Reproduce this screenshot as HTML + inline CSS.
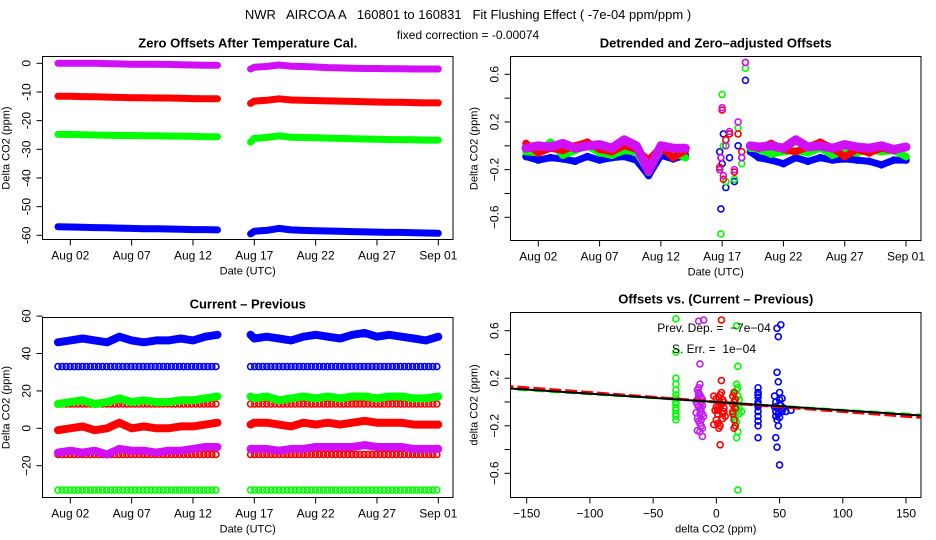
<!DOCTYPE html>
<html><head><meta charset="utf-8"><style>
html,body{margin:0;padding:0;background:#fff}
svg{display:block;font-family:"Liberation Sans",Arial,sans-serif}
text{white-space:pre}
</style></head><body>
<svg id="c" width="936" height="540" viewBox="0 0 936 540" xmlns="http://www.w3.org/2000/svg">
<defs>
<pattern id="pp" width="2" height="2" patternUnits="userSpaceOnUse"><rect width="2" height="2" fill="#a020f0"/><rect width="1" height="1" fill="#ff00ff"/><rect x="1" y="1" width="1" height="1" fill="#ff00ff"/></pattern>
</defs>
<text x="468" y="19" font-size="13" text-anchor="middle">NWR   AIRCOA A   160801 to 160831   Fit Flushing Effect ( -7e-04 ppm/ppm )</text>
<text x="468" y="39" font-size="12" text-anchor="middle">fixed correction = -0.00074</text>
</svg>
<script>
// ---- data ----
const dayTicks=[2,7,12,17,22,27,32];
const dayLabels=["Aug 02","Aug 07","Aug 12","Aug 17","Aug 22","Aug 27","Sep 01"];
const T=[1,2,3,4,5,6,7,8,9,10,11,12,13,14,16.7,17,18,19,20,21,22,23,24,25,26,27,28,29,30,31,32];
const p1Purple=[0,0,0,0,-0.1,-0.2,-0.3,-0.3,-0.3,-0.4,-0.5,-0.6,-0.7,-0.7,-2,-1.4,-1.1,-0.6,-1,-1.1,-1.3,-1.5,-1.6,-1.7,-1.8,-1.8,-1.9,-1.9,-2,-2,-2];
const p1Red=[-11.5,-11.5,-11.6,-11.7,-11.8,-11.9,-12,-12,-12.1,-12.1,-12.2,-12.3,-12.4,-12.4,-14,-13.2,-12.9,-12.4,-12.8,-12.9,-13,-13.1,-13.2,-13.3,-13.4,-13.5,-13.6,-13.6,-13.7,-13.8,-13.8];
const p1Green=[-24.8,-24.8,-24.9,-25,-25.1,-25.2,-25.2,-25.3,-25.3,-25.4,-25.4,-25.5,-25.6,-25.6,-27.5,-26.2,-25.9,-25.3,-25.8,-25.9,-26,-26.1,-26.2,-26.3,-26.4,-26.5,-26.6,-26.6,-26.7,-26.8,-26.8];
const p1Blue=[-57,-57.1,-57.2,-57.3,-57.4,-57.5,-57.6,-57.7,-57.7,-57.8,-57.9,-58,-58,-58.1,-59.5,-58.6,-58.3,-57.6,-58.1,-58.3,-58.4,-58.5,-58.6,-58.7,-58.8,-58.9,-59,-59,-59.1,-59.2,-59.3];
const p1Ticks=[0,-10,-20,-30,-40,-50,-60];

const P2T=[1,2,3,4,5,6,7,8,9,10,11,12,13,14,16.8,16.9,17,17.1,17.3,17.6,18,18.3,18.6,18.9,19.3,20,21,22,23,24,25,26,27,28,29,30,31,32];
const p2Blue=[-0.09,-0.12,-0.1,-0.11,-0.13,-0.09,-0.12,-0.1,-0.09,-0.12,-0.25,-0.08,-0.11,-0.08,-0.05,-0.53,-0.15,0.1,-0.35,-0.1,-0.3,0.0,-0.1,0.55,-0.05,-0.1,-0.12,-0.15,-0.1,-0.13,-0.1,-0.12,-0.11,-0.12,-0.13,-0.16,-0.12,-0.12];
const p2Green=[-0.05,-0.06,0.03,-0.08,-0.04,0.0,-0.06,-0.08,-0.04,-0.05,-0.22,-0.03,-0.06,-0.1,-0.2,-0.74,0.43,0.0,-0.3,0.1,-0.28,0.15,-0.15,0.65,-0.02,-0.03,-0.07,-0.05,-0.04,-0.06,-0.02,-0.08,-0.05,-0.06,-0.03,-0.05,-0.04,-0.09];
const p2Red=[0.02,-0.06,-0.02,-0.04,0.0,0.03,-0.03,-0.05,0.0,-0.03,-0.12,-0.01,-0.1,-0.04,-0.18,-0.1,0.3,-0.28,0.05,0.1,-0.22,0.1,-0.05,0.7,0.0,-0.02,0.02,-0.03,-0.05,-0.01,0.03,-0.02,-0.09,-0.03,-0.06,-0.02,-0.04,-0.01];
const p2Purple=[-0.02,0.0,-0.01,0.02,-0.02,0.0,0.01,-0.02,0.05,0.0,-0.21,0.0,-0.02,-0.02,-0.2,-0.1,0.32,-0.25,0.0,0.12,-0.2,0.2,-0.1,0.7,0.0,-0.01,0.0,-0.02,0.05,-0.01,0.0,-0.02,0.01,-0.01,-0.02,0.0,-0.03,-0.01];
const resTicks=[0.6,0.4,0.2,0,-0.2,-0.4,-0.6];
const resLabels=["0.6","","0.2","","-0.2","","-0.6"];

const p3Blue=[46,47,48,47,46,49,47,46,47,47,48,47,49,50,50,48,49,48,47,49,50,49,48,50,51,49,50,49,48,47,49];
const p3Green=[13,14,15,13,14,16,14,15,14,14,15,15,16,17,17,16,17,15,16,17,16,17,16,17,17,16,17,17,16,16,17];
const p3Red=[-1,0,1,-1,0,3,0,1,0,0,1,1,2,3,2,3,3,2,1,3,2,3,2,3,4,3,3,3,2,2,2];
const p3Purple=[-13,-12,-13,-12,-14,-11,-12,-12,-13,-12,-12,-11,-10,-10,-11,-11,-11,-12,-11,-11,-10,-10,-10,-10,-9,-10,-10,-10,-11,-11,-11];
const flatLevels=[33,-33,13,-14];
const flatColors=["#0000ff","#00ff00","#ff0000","#ff0000"];
const p3Ticks=[60,40,20,0,-20];

const p4XTicks=[-150,-100,-50,0,50,100,150];
const greenX=[-32,-32,-32,-32,-32,-32,-32,-32,-32,-32,-32,-32,-32,-32,14,15,16,17,18,15,16,17,14,18,16,17,15,16,18,17,16,20,15,17,16,14];
const greenY=[-0.15,-0.12,-0.1,-0.07,-0.05,-0.02,0,0.03,0.06,0.1,0.15,0.2,0.42,0.7,0.0,-0.1,0.1,0.05,-0.05,-0.2,0.15,-0.25,0.07,0.02,-0.3,0.3,-0.15,0.64,-0.1,-0.74,-0.05,-0.08,-0.03,0.12,-0.17,-0.12];
const purpleX=[-15,-14,-13,-12,-11,-16,-15,-14,-13,-12,-11,-10,-15,-14,-13,-12,-11,-13,-14,-12,-13,-14,-12,-13,-11,-14,-15,-10,-13,-12,-16,-12,-14,-11,-15];
const purpleY=[0.1,0.08,0.06,0.04,0.02,0.0,-0.02,-0.04,-0.06,-0.08,-0.1,-0.12,-0.14,-0.16,-0.18,-0.2,-0.22,0.15,0.12,0.0,-0.25,0.04,-0.05,0.32,-0.29,0.68,-0.24,0.69,-0.1,0.03,-0.09,-0.15,0.06,-0.03,0.02];
const redX=[-2,0,2,4,6,-1,1,3,5,7,0,2,4,6,1,3,5,2,4,3,13,14,15,13,14,15,14,13,-2,3,4,14,0,5,2,6,1,13,15];
const redY=[0.05,0.03,0.0,-0.02,-0.05,-0.07,-0.1,0.06,0.02,-0.12,-0.15,-0.04,0.08,-0.08,-0.18,-0.01,-0.14,-0.22,0.18,-0.2,0.05,0.0,-0.05,-0.1,-0.15,-0.2,0.08,-0.02,-0.19,-0.36,0.69,-0.22,-0.04,-0.1,0.04,0.0,-0.07,-0.08,0.02];
const blueX=[33,33,33,33,33,33,33,33,33,33,33,33,46,47,48,49,50,51,52,47,48,49,50,51,48,49,50,53,55,59,47,48,50,51,49,48,46,50,52,47];
const blueY=[0.12,0.08,0.04,0.0,-0.04,-0.08,-0.12,-0.16,-0.2,-0.3,0.06,-0.02,0.05,0.0,-0.05,-0.1,0.02,-0.03,-0.08,-0.12,-0.15,-0.2,0.08,-0.06,0.25,0.17,-0.02,-0.05,-0.08,-0.07,-0.3,-0.38,-0.53,0.65,0.55,0.62,-0.04,-0.13,0.03,-0.08];
const fitSlopes=[-0.0008,-0.00065,-0.0007];

// ---- helpers ----
const svg=document.getElementById('c');
const NS='http://www.w3.org/2000/svg';
function mk(tag,attrs,parent){const e=document.createElementNS(NS,tag);for(const k in attrs)e.setAttribute(k,attrs[k]);(parent||svg).appendChild(e);return e;}
function lin(d0,d1,r0,r1){return v=>r0+(v-d0)*(r1-r0)/(d1-d0);}
const PURPLE='url(#pp)';

function frame(name,box,title,xlab,ylab,xt,xl,xs,yt,yl,ys){
  const g=mk('g',{});
  
  
  const r=mk('rect',{x:box.l,y:box.t,width:box.r-box.l,height:box.b-box.t,fill:'none',stroke:'#000','stroke-width':1},g);
  
  
  const tt=mk('text',{x:(box.l+box.r)/2,y:box.t-9,'font-size':13,'font-weight':'bold','text-anchor':'middle'},g);
  tt.textContent=title;
  
  
  const xa=mk('g',{},g);
  
  
  xt.forEach((v,i)=>{const x=xs(v);
    mk('line',{x1:x,x2:x,y1:box.b,y2:box.b+6,stroke:'#000'},xa);
    const t=mk('text',{x:x,y:box.b+20,'font-size':12,'text-anchor':'middle'},xa);t.textContent=xl[i];
    
    
  });
  const xtl=mk('text',{x:(box.l+box.r)/2,y:box.b+35,'font-size':11,'text-anchor':'middle'},g);xtl.textContent=xlab;
  
  
  const ya=mk('g',{},g);
  
  
  yt.forEach((v,i)=>{const y=ys(v);
    mk('line',{x1:box.l-6,x2:box.l,y1:y,y2:y,stroke:'#000'},ya);
    if(yl[i]!==''){const t=mk('text',{x:box.l-12,y:y,'font-size':12,'text-anchor':'middle',transform:`rotate(-90 ${box.l-12} ${y})`},ya);t.textContent=yl[i];
    
    }
  });
  const ytl=mk('text',{x:box.l-33,y:(box.t+box.b)/2,'font-size':11,'text-anchor':'middle',transform:`rotate(-90 ${box.l-33} ${(box.t+box.b)/2})`},g);ytl.textContent=ylab;
  
  
  return g;
}
function band(g,xs,ys,tArr,vArr,i0,i1,color,w){
  const pts=[];for(let i=i0;i<=i1;i++)pts.push(xs(tArr[i]).toFixed(1)+','+ys(vArr[i]).toFixed(1));
  const p=mk('polyline',{points:pts.join(' '),fill:'none',stroke:color,'stroke-width':w,'stroke-linejoin':'round','stroke-linecap':'round'},g);
  
  
}
function dots(g,xs,ys,xArr,yArr,color,i0,i1){
  xArr.forEach((x,i)=>{
    if(i0!==undefined&&(i<i0||i>i1))return;
    const c=mk('circle',{cx:xs(x),cy:ys(yArr[i]),r:3,fill:'none',stroke:color,'stroke-width':1.6},g);
    
    });
}

// ---- panel 1 ----
{
 const box={l:42.5,r:453,t:56.5,b:239.5};
 const xs=lin(2,32,70.3,438.3), ys=lin(0,-60,63.3,235.3);
 const g=frame('panel-zero-offsets',box,'Zero Offsets After Temperature Cal.','Date (UTC)','Delta CO2 (ppm)',dayTicks,dayLabels,xs,p1Ticks,p1Ticks.map(String),ys);
 [[p1Purple,PURPLE],[p1Red,'#ff0000'],[p1Green,'#00ff00'],[p1Blue,'#0000ff']].forEach(([arr,col])=>{
   const s=mk('g',{},g);
   
   
   band(s,xs,ys,T,arr,0,13,col,7);band(s,xs,ys,T,arr,14,30,col,7);
 });
}
// ---- panel 2 ----
{
 const box={l:510.5,r:921,t:56.5,b:240.5};
 const xs=lin(2,32,538.3,906), ys=lin(0.6,-0.6,74.3,217.3);
 const g=frame('panel-detrended',box,'Detrended and Zero\u2013adjusted Offsets','Date (UTC)','Delta CO2 (ppm)',dayTicks,dayLabels,xs,resTicks,resLabels.map(s=>s.replace('-','\u2212')),ys);
 [[p2Blue,'#0000ff',7],[p2Green,'#00ff00',7],[p2Red,'#ff0000',7],[p2Purple,PURPLE,9]].forEach(([arr,col,w])=>{
   const s=mk('g',{},g);
   
   
   band(s,xs,ys,P2T,arr,0,13,col,w);band(s,xs,ys,P2T,arr,24,37,col,w);
   dots(s,xs,ys,P2T,arr,col);
 });
}
// ---- panel 3 ----
{
 const box={l:42.5,r:453,t:317.5,b:497.5};
 const xs=lin(2,32,70.3,438.3), ys=lin(0,-20,428.3,465.7);
 const g=frame('panel-current-previous',box,'Current \u2013 Previous','Date (UTC)','Delta CO2 (ppm)',dayTicks,dayLabels,xs,p3Ticks,p3Ticks.map(v=>String(v).replace('-','\u2212')),ys);
 flatLevels.forEach((lv,k)=>{
   const s=mk('g',{},g);
   
   
   const tt=[],vv=[];
   for(let t=T[0];t<=T[13];t+=0.33){tt.push(t);vv.push(lv);}
   for(let t=T[14];t<=T[30];t+=0.33){tt.push(t);vv.push(lv);}
   dots(s,xs,ys,tt,vv,flatColors[k]);
 });
 [[p3Blue,'#0000ff'],[p3Green,'#00ff00'],[p3Red,'#ff0000'],[p3Purple,PURPLE]].forEach(([arr,col])=>{
   const s=mk('g',{},g);
   
   
   band(s,xs,ys,T,arr,0,13,col,8);band(s,xs,ys,T,arr,14,30,col,8);
   dots(s,xs,ys,T,arr,col);
 });
}
// ---- panel 4 ----
{
 const box={l:510.5,r:921,t:312.5,b:497.5};
 const xs=lin(-150,150,526.7,906), ys=lin(0.6,-0.6,330.7,473.3);
 const g=frame('panel-offsets-vs-diff',box,'Offsets vs. (Current \u2013 Previous)','delta CO2 (ppm)','delta CO2 (ppm)',p4XTicks,p4XTicks.map(v=>String(v).replace('-','\u2212')),xs,resTicks,resLabels.map(s=>s.replace('-','\u2212')),ys);
 const cp=mk('clipPath',{id:'cp4'});mk('rect',{x:box.l,y:box.t,width:box.r-box.l,height:box.b-box.t},cp);
 const s=mk('g',{},g);
 
 
 dots(s,xs,ys,greenX,greenY,'#00ff00');dots(s,xs,ys,purpleX,purpleY,'#c020f0');dots(s,xs,ys,redX,redY,'#ff0000');dots(s,xs,ys,blueX,blueY,'#0000ff');
 const styles=[['#ff0000',3,'12 4'],['#00ff00',2,'10 6'],['#000',2,'']];
 fitSlopes.forEach((m,i)=>{
   const l=mk('line',{x1:xs(-170),y1:ys(m*-170),x2:xs(170),y2:ys(m*170),stroke:styles[i][0],'stroke-width':styles[i][1],'stroke-dasharray':styles[i][2],'clip-path':'url(#cp4)'},g);
   
   
 });
 const a=mk('text',{x:714,y:332,'font-size':12,'text-anchor':'middle'},g);a.textContent='Prev. Dep. =  \u22127e\u221204';
 
 
 const b=mk('text',{x:714,y:353,'font-size':12,'text-anchor':'middle'},g);b.textContent='S. Err. =  1e\u221204';
 
 
}
</script>
</body></html>
